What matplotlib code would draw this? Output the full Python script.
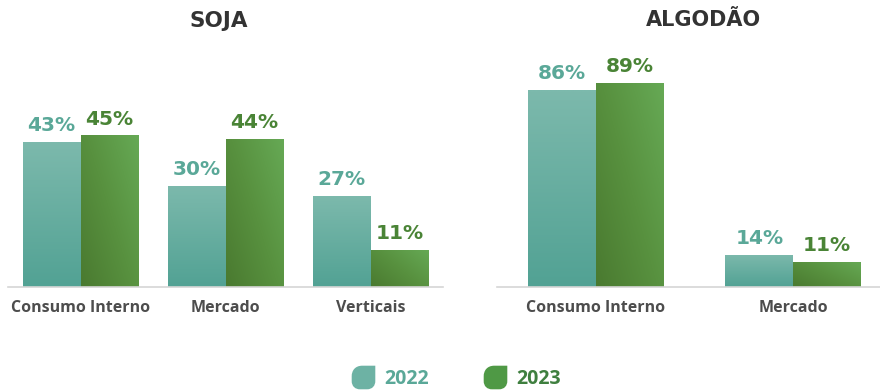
import numpy as np
import matplotlib
matplotlib.use("Agg")
import matplotlib.pyplot as plt
from matplotlib.path import Path
from matplotlib.lines import Line2D
from matplotlib.colors import LinearSegmentedColormap

plt.rcParams['font.family'] = ['Open Sans', 'DejaVu Sans']

soja_cats = ["Consumo Interno", "Mercado", "Verticais"]
soja_2022 = [43, 30, 27]
soja_2023 = [45, 44, 11]

algodao_cats = ["Consumo Interno", "Mercado"]
algodao_2022 = [86, 14]
algodao_2023 = [89, 11]

years = ["2022", "2023"]

TEAL_TXT = "#5aa898"
GREEN_TXT = "#4a8436"
WIDE = ['DejaVu Sans']
cmap_teal = LinearSegmentedColormap.from_list("teal", ["#52a294", "#7cb9ac"])
cmap_green = LinearSegmentedColormap.from_list("green", ["#4a7a30", "#58913f", "#66a955"])


def gradient_bar(ax, x, h, w, cmap, diagonal):
    bar = ax.bar(x, h, w, facecolor="none", edgecolor="none")[0]
    n = 64
    xx, yy = np.meshgrid(np.linspace(0, 1, n), np.linspace(0, 1, n))
    if diagonal:
        z = 0.55 * xx + 0.45 * yy
    else:
        z = yy
    im = ax.imshow(z, cmap=cmap, extent=(x - w / 2, x + w / 2, 0, h),
                   origin="lower", aspect="auto", interpolation="bilinear", zorder=2)
    im.set_clip_path(bar)
    return bar


def draw_panel(ax, cats, v22, v23, w, ymax, xmax):
    x = np.arange(len(cats))
    for i in range(len(cats)):
        gradient_bar(ax, x[i] - w / 2, v22[i], w, cmap_teal, False)
        gradient_bar(ax, x[i] + w / 2, v23[i], w, cmap_green, True)
        ax.annotate(f"{v22[i]}%", (x[i] - w / 2, v22[i]), xytext=(0, 5),
                    textcoords="offset points", ha="center", va="bottom",
                    fontsize=14.5, fontweight="bold", color=TEAL_TXT, family=WIDE)
        ax.annotate(f"{v23[i]}%", (x[i] + w / 2, v23[i]), xytext=(0, 5),
                    textcoords="offset points", ha="center", va="bottom",
                    fontsize=14.5, fontweight="bold", color=GREEN_TXT, family=WIDE)
    ax.set_xlim(-0.5, xmax)
    ax.set_ylim(0, ymax)
    ax.set_xticks(x)
    ax.set_xticklabels(cats, fontsize=11.5, fontweight="bold", color="#4d4d4d")
    ax.tick_params(axis="x", length=0, pad=9)
    ax.set_yticks([])
    for s in ["top", "right", "left"]:
        ax.spines[s].set_visible(False)
    ax.spines["bottom"].set_color("#d6d6d6")
    ax.spines["bottom"].set_linewidth(1.2)


fig = plt.figure(figsize=(8.8, 3.9), dpi=100)

ax1 = fig.add_axes([8 / 880, 103 / 390, 435 / 880, 202 / 390])
draw_panel(ax1, soja_cats, soja_2022, soja_2023, 0.4, 60, 2.5)

ax2 = fig.add_axes([497 / 880, 103 / 390, 383 / 880, 229 / 390])
draw_panel(ax2, algodao_cats, algodao_2022, algodao_2023, 0.343, 100, 1.44)

fig.text(219 / 880, 1 - 21 / 390, "SOJA", ha="center", va="center",
         fontsize=15.5, fontweight="bold", color="#333333", family=WIDE)
fig.text(703 / 880, 1 - 20 / 390, "ALGODÃO", ha="center", va="center",
         fontsize=15, fontweight="bold", color="#333333", family=WIDE)

leaf = Path([(1, 1), (-0.1, 1), (-0.7, 1), (-1, 0.6), (-1, 0.1),
             (-1, -0.3), (-1, -0.75), (-0.7, -1), (-0.3, -1),
             (0.3, -1), (0.75, -1), (1, -0.7), (1, -0.3), (1, 1)],
            [Path.MOVETO, Path.LINETO, Path.CURVE4, Path.CURVE4, Path.CURVE4,
             Path.LINETO, Path.CURVE4, Path.CURVE4, Path.CURVE4,
             Path.LINETO, Path.CURVE4, Path.CURVE4, Path.CURVE4, Path.CLOSEPOLY])

handles = [
    Line2D([], [], linestyle="none", marker=leaf, markersize=17,
           markerfacecolor="#6db2a4", markeredgecolor="none"),
    Line2D([], [], linestyle="none", marker=leaf, markersize=17,
           markerfacecolor="#4f9945", markeredgecolor="none"),
]
leg = fig.legend(handles, years, loc="center", bbox_to_anchor=(456 / 880, 1 - 379 / 390),
                 ncol=2, frameon=False, fontsize=14, handletextpad=0.5,
                 columnspacing=2.8, handlelength=1.2)
leg.get_texts()[0].set_color(TEAL_TXT)
leg.get_texts()[1].set_color("#3f7f3f")
for t in leg.get_texts():
    t.set_fontweight("bold")

fig.savefig("out.png", dpi=100)
